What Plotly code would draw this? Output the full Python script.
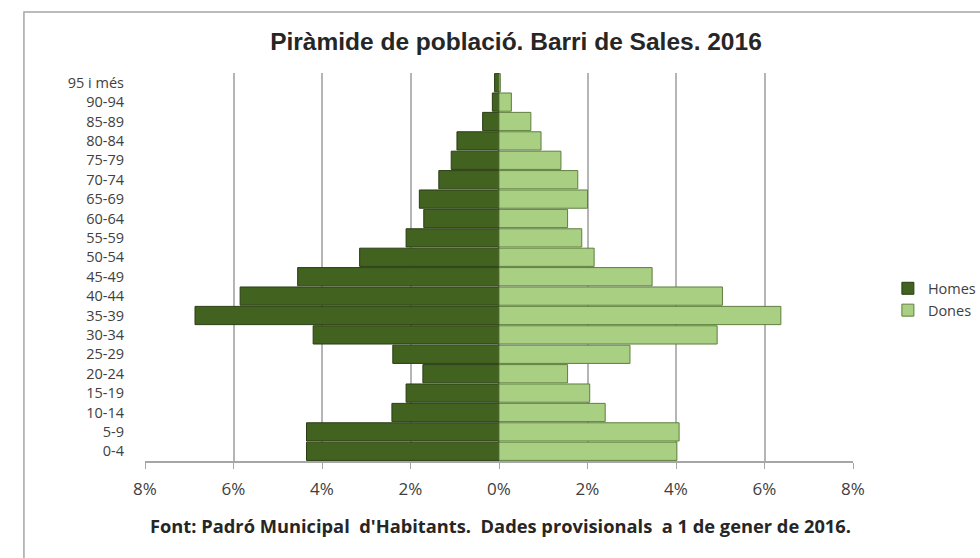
import plotly.graph_objects as go

age_groups = ["0-4", "5-9", "10-14", "15-19", "20-24", "25-29", "30-34", "35-39",
              "40-44", "45-49", "50-54", "55-59", "60-64", "65-69", "70-74",
              "75-79", "80-84", "85-89", "90-94", "95 i més"]
homes = [4.35, 4.35, 2.42, 2.1, 1.72, 2.4, 4.2, 6.87, 5.85, 4.55, 3.15, 2.1,
         1.7, 1.8, 1.36, 1.08, 0.95, 0.37, 0.15, 0.1]
dones = [4.02, 4.07, 2.4, 2.05, 1.55, 2.96, 4.93, 6.37, 5.05, 3.46, 2.15, 1.87,
         1.55, 2.0, 1.78, 1.4, 0.95, 0.72, 0.28, 0.03]
tick_vals = [-8, -6, -4, -2, 0, 2, 4, 6, 8]
tick_text = ["8%", "6%", "4%", "2%", "0%", "2%", "4%", "6%", "8%"]

fig = go.Figure()
fig.add_trace(go.Bar(
    y=age_groups, x=[-v for v in homes], orientation="h", name="Homes",
    marker=dict(color="#42621f", line=dict(color="#2a3d14", width=1)),
))
fig.add_trace(go.Bar(
    y=age_groups, x=dones, orientation="h", name="Dones",
    marker=dict(color="#a8cf82", line=dict(color="#5f7f3f", width=1)),
))

fig.update_layout(
    width=980, height=558,
    barmode="overlay", bargap=0.06,
    paper_bgcolor="white", plot_bgcolor="white",
    margin=dict(l=145, r=127, t=73, b=97, autoexpand=False),
    font=dict(family="Liberation Sans, Arial, sans-serif", color="#404040"),
    title=dict(text="<b>Piràmide de població. Barri de Sales. 2016</b>",
               x=0.5265, xanchor="center", y=0.9265, yanchor="middle",
               font=dict(size=24.5, color="#262626",
                         family="Liberation Sans, Arial, sans-serif")),
    legend=dict(xref="container", yref="container",
                x=0.906, xanchor="left", y=0.4635, yanchor="middle",
                font=dict(size=14.5, color="#404040",
                          family="Open Sans, Liberation Sans, sans-serif"),
                traceorder="normal", itemwidth=30, tracegroupgap=0,
                bgcolor="rgba(0,0,0,0)"),
    xaxis=dict(range=[-8, 8], tickvals=tick_vals, ticktext=tick_text,
               automargin=False,
               showgrid=True, gridcolor="#b5b5b5", gridwidth=1.5,
               zeroline=True, zerolinecolor="#8c8c8c", zerolinewidth=1.5,
               showline=True, linecolor="#a6a6a6", linewidth=1.5,
               ticks="outside", ticklen=6, tickcolor="#a6a6a6",
               ticklabelstandoff=6,
               tickfont=dict(size=17, color="#404040",
                             family="Open Sans, Liberation Sans, sans-serif"),
               fixedrange=True),
    yaxis=dict(showgrid=False, showline=False, ticks="",
               automargin=False,
               tickmode="array", tickvals=age_groups, ticktext=age_groups,
               ticklabelstandoff=20,
               tickfont=dict(size=14.5, color="#404040",
                             family="Open Sans, Liberation Sans, sans-serif"),
               fixedrange=True),
    annotations=[dict(
        text="<b>Font: Padró Municipal  d'Habitants.  Dades provisionals  a 1 de gener de 2016.</b>",
        xref="paper", yref="paper", x=0.502, y=-0.165,
        xanchor="center", yanchor="middle", showarrow=False,
        font=dict(size=18.3, color="#262626",
                  family="Open Sans, Liberation Sans, sans-serif"))],
    shapes=[dict(type="rect", xref="paper", yref="paper",
                 x0=-0.171, x1=1.3, y0=-0.3, y1=1.157,
                 line=dict(color="#a6a6a6", width=1.5))],
)

fig.write_html("out.html", config={"displayModeBar": False},
               post_script="document.body.style.margin='0';document.body.style.overflow='hidden';")
